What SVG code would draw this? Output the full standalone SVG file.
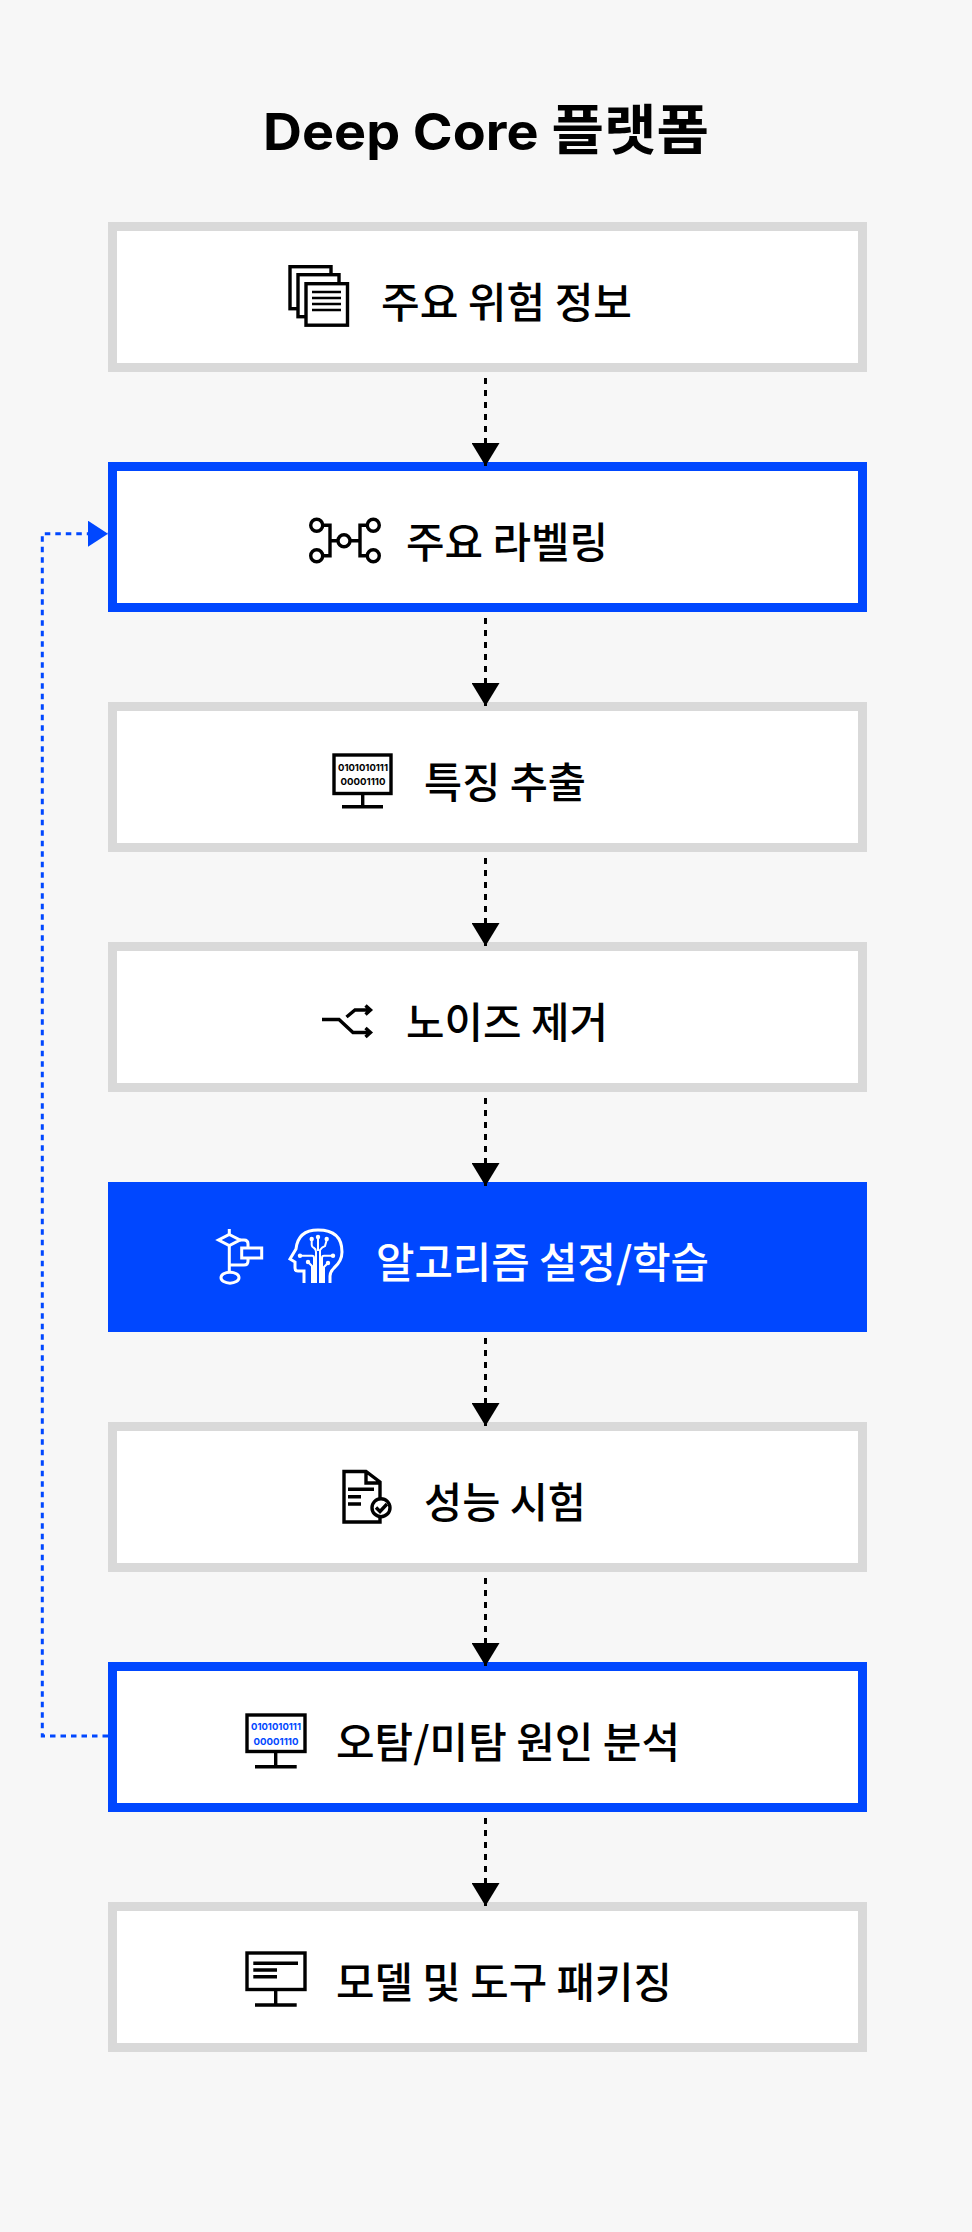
<svg xmlns="http://www.w3.org/2000/svg" width="972" height="2232" viewBox="0 0 972 2232">
<style>
text{font-family:"Noto Sans CJK KR","Noto Sans",sans-serif}
.t{font-size:42px;font-weight:500;fill:#000}
.w{fill:#fff}
.title{font-size:54px;font-weight:700;fill:#000}
.lat{font-family:Inter,"Noto Sans",sans-serif;font-size:51px;font-weight:700}
.box{fill:#fff;stroke:#d9d9d9;stroke-width:9}
.hl{fill:#fff;stroke:#0047ff;stroke-width:9}
.ic{fill:none;stroke:#000;stroke-width:3.400}
.icw{fill:none;stroke:#fff;stroke-width:3}
.dw{fill:#fff}
.bin{font-size:9.500px;font-weight:700;font-family:Inter,"Noto Sans",sans-serif}
.cb{fill:none;stroke:#000;stroke-width:3;stroke-dasharray:6 6}
.cl{fill:none;stroke:#0047ff;stroke-width:3;stroke-dasharray:5.500 5}
</style>
<defs>
<marker id="ak" markerUnits="userSpaceOnUse" markerWidth="24" markerHeight="28" refX="23" refY="14" orient="auto" viewBox="0 0 24 28"><path d="M0 0L23 14L0 28Z" fill="#000"/></marker>
<marker id="al" markerUnits="userSpaceOnUse" markerWidth="21" markerHeight="26" refX="20" refY="13" orient="auto" viewBox="0 0 21 26"><path d="M0 0L20 13L0 26Z" fill="#0047ff"/></marker>
</defs>
<rect width="972" height="2232" fill="#f7f7f7"/>
<text id="title" class="title" x="486" y="150" text-anchor="middle" textLength="446" lengthAdjust="spacingAndGlyphs"><tspan class="lat">Deep Core</tspan> 플랫폼</text>

<g id="n1">
<rect class="box" x="112.500" y="226.500" width="750" height="141"/>
<g class="ic">
<rect x="290" y="266.700" width="41" height="42" fill="#fff"/>
<rect x="298" y="274.700" width="41" height="42" fill="#fff"/>
<rect x="306" y="283.700" width="41.500" height="41.500" fill="#fff"/>
<path d="M312 292H341M312 298H341M312 304H341M312 310H341" stroke-width="2.600"/>
</g>
<text class="t" x="381" y="318" textLength="251" lengthAdjust="spacingAndGlyphs">주요 위험 정보</text>
</g>

<g id="n2">
<rect class="hl" x="112.500" y="466.500" width="750" height="141"/>
<g class="ic">
<circle cx="316.700" cy="525.300" r="6"/><circle cx="316.700" cy="555.700" r="6"/><circle cx="344" cy="540.700" r="6"/><circle cx="373.300" cy="525.300" r="6"/><circle cx="373.300" cy="555.700" r="6"/>
<path d="M322.700 525.300H330V555.700H322.700M330 540.700H338M350 540.700H360M367.300 525.300H360V555.700H367.300"/>
</g>
<text class="t" x="406" y="558" textLength="202" lengthAdjust="spacingAndGlyphs">주요 라벨링</text>
</g>

<g id="n3">
<rect class="box" x="112.500" y="706.500" width="750" height="141"/>
<rect class="ic" x="334" y="755" width="57" height="38.500" stroke-width="3.600"/>
<path class="ic" d="M362.700 793.500V806.700M342 806.700H383"/>
<text class="bin" x="363" y="770.500" text-anchor="middle" textLength="50" lengthAdjust="spacingAndGlyphs">0101010111</text>
<text class="bin" x="363" y="785" text-anchor="middle" textLength="45" lengthAdjust="spacingAndGlyphs">00001110</text>
<text class="t" x="424" y="798" textLength="162" lengthAdjust="spacingAndGlyphs">특징 추출</text>
</g>

<g id="n4">
<rect class="box" x="112.500" y="946.500" width="750" height="141"/>
<path class="ic" d="M322 1019.500H339L353 1032.500H370M346.500 1017L355 1010H370M365.500 1005.500L370.500 1010L365.500 1014.500M365.500 1028L370.500 1032.500L365.500 1037"/>
<text class="t" x="406" y="1038" textLength="202" lengthAdjust="spacingAndGlyphs">노이즈 제거</text>
</g>

<g id="n5">
<rect x="108" y="1182" width="759" height="150" fill="#0047ff"/>
<g class="icw">
<path d="M229.300 1229V1234.500M229.300 1246V1271.500M240 1240H244Q248 1240 248 1244V1248M229.300 1265H244Q248 1265 248 1261V1258"/>
<path d="M229.300 1234.500L240 1240L229.300 1245.500L218.500 1240Z"/>
<rect x="241.700" y="1248" width="20" height="10"/>
<ellipse cx="230" cy="1277.700" rx="9" ry="5.500"/>
<path d="M304 1283V1271H298Q295 1271 295 1268V1262L290 1259L296 1249Q298 1230 318 1230Q342 1230 342 1252Q342 1261 334 1268Q330 1272 330 1276V1283"/>
<path d="M318 1238V1251M311.700 1240V1245Q311.700 1247 314 1248Q316 1249 316 1252V1283M326.700 1240L325 1246Q322 1247 320 1250V1283M300 1255.700H312Q314 1255.700 314 1258V1283M333 1255.700H324Q322 1255.700 322 1258V1283M308 1262L312 1266V1283M328 1263L324 1267V1283" stroke-width="2"/>
</g>
<g class="dw"><circle cx="318" cy="1237" r="2.200"/><circle cx="311.700" cy="1239" r="2.200"/><circle cx="326.700" cy="1239" r="2.200"/><circle cx="300" cy="1255.700" r="2.200"/><circle cx="333" cy="1255.700" r="2.200"/><circle cx="308" cy="1262" r="2.200"/><circle cx="328" cy="1263" r="2.200"/></g>
<text class="t w" x="376" y="1278" textLength="333" lengthAdjust="spacingAndGlyphs">알고리즘 설정/학습</text>
</g>

<g id="n6">
<rect class="box" x="112.500" y="1426.500" width="750" height="141"/>
<path class="ic" d="M380 1499V1482L366 1471.500H344V1522H380V1517M366 1471.500V1483H380M348 1489.300H374M348 1496.700H361M348 1504H361" stroke-width="3"/>
<circle class="ic" cx="381" cy="1507.700" r="9" stroke-width="3"/>
<path class="ic" d="M376 1507.500L380 1511.500L387 1504" stroke-width="3"/>
<text class="t" x="424" y="1518" textLength="162" lengthAdjust="spacingAndGlyphs">성능 시험</text>
</g>

<g id="n7">
<rect class="hl" x="112.500" y="1666.500" width="750" height="141"/>
<rect class="ic" x="247" y="1715" width="58" height="36.500" stroke-width="3.600"/>
<path class="ic" d="M275.700 1751.500V1766.700M255 1766.700H296.700"/>
<text class="bin" x="276" y="1730" fill="#0047ff" text-anchor="middle" textLength="50" lengthAdjust="spacingAndGlyphs">0101010111</text>
<text class="bin" x="276" y="1744.500" fill="#0047ff" text-anchor="middle" textLength="45" lengthAdjust="spacingAndGlyphs">00001110</text>
<text class="t" x="336" y="1758" textLength="344" lengthAdjust="spacingAndGlyphs">오탐/미탐 원인 분석</text>
</g>

<g id="n8">
<rect class="box" x="112.500" y="1906.500" width="750" height="141"/>
<rect class="ic" x="247" y="1953" width="58" height="36.500" stroke-width="3.600"/>
<path class="ic" d="M275.700 1989.500V2005M255 2005H296.700M253.300 1963.300H298M253.300 1970H277M253.300 1976.700H277"/>
<text class="t" x="336" y="1998" textLength="336" lengthAdjust="spacingAndGlyphs">모델 및 도구 패키징</text>
</g>

<g id="connectors">
<path class="cb" d="M485.500 378V466" marker-end="url(#ak)"/>
<path class="cb" d="M485.500 618V706" marker-end="url(#ak)"/>
<path class="cb" d="M485.500 858V946" marker-end="url(#ak)"/>
<path class="cb" d="M485.500 1098V1186" marker-end="url(#ak)"/>
<path class="cb" d="M485.500 1338V1426" marker-end="url(#ak)"/>
<path class="cb" d="M485.500 1578V1666" marker-end="url(#ak)"/>
<path class="cb" d="M485.500 1818V1906" marker-end="url(#ak)"/>
<path class="cl" d="M108 1736H42.300V533.700H108" marker-end="url(#al)"/>
</g>
</svg>
